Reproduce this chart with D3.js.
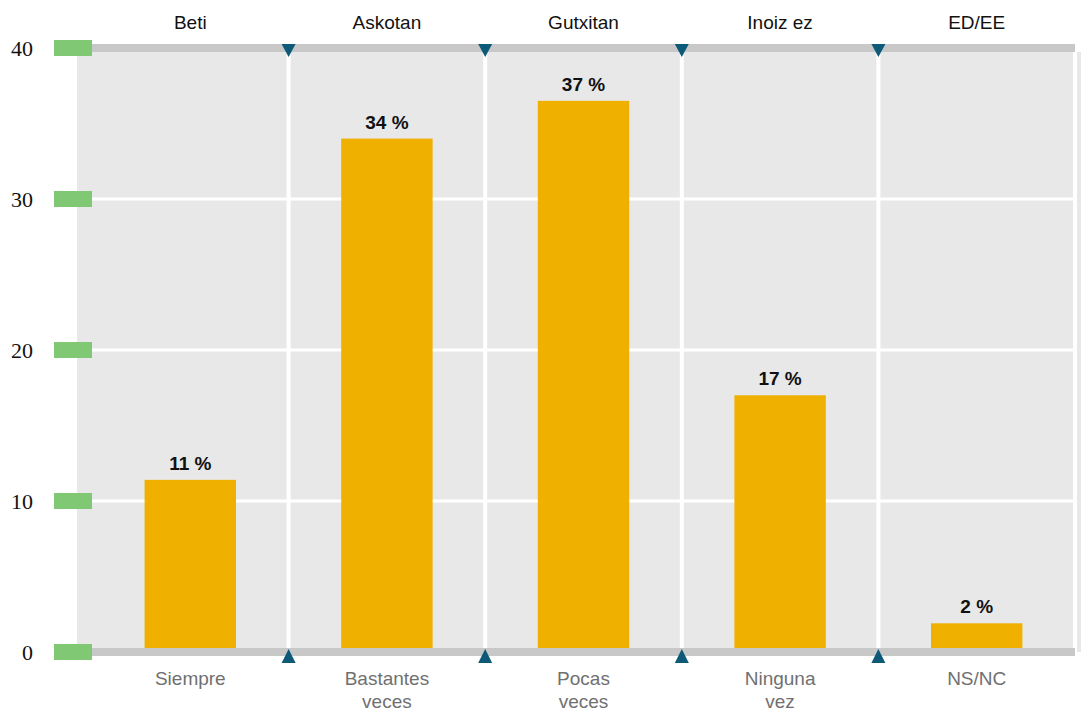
<!DOCTYPE html>
<html><head><meta charset="utf-8">
<script src="https://cdn.jsdelivr.net/npm/d3@7"></script>
<style>body{margin:0;background:#fff}svg{display:block}</style>
</head><body><svg id="c" width="1082" height="712"></svg>
<script>
const categories = ["Siempre", "Bastantes veces", "Pocas veces", "Ninguna vez", "NS/NC"];
const topLabels = ["Beti", "Askotan", "Gutxitan", "Inoiz ez", "ED/EE"];
const values = [11.4, 34.0, 36.5, 17.0, 1.9];
const valueLabels = ["11 %", "34 %", "37 %", "17 %", "2 %"];
const yTicks = [0, 10, 20, 30, 40];

const svg = d3.select("#c");
const x = d3.scaleBand().domain(categories).range([92, 1075]).paddingInner(0).paddingOuter(0);
const y = d3.scaleLinear().domain([0, 40]).range([652, 48]);

// background
svg.append("rect").attr("x", 77).attr("y", y(40) + 4).attr("width", 1081 - 77).attr("height", y(0) - y(40) - 4).attr("fill", "#e8e8e8");

// horizontal grid
svg.selectAll(".hg").data(yTicks.filter(d => d > 0 && d < 40)).enter().append("line")
  .attr("x1", 92).attr("x2", 1075).attr("y1", d => y(d)).attr("y2", d => y(d))
  .attr("stroke", "#fff").attr("stroke-width", 3);

// vertical grid at band boundaries
const bounds = categories.map(c => x(c) + x.bandwidth());
svg.selectAll(".vg").data(bounds).enter().append("line")
  .attr("x1", d => d).attr("x2", d => d).attr("y1", y(40)).attr("y2", y(0))
  .attr("stroke", "#fff").attr("stroke-width", 4);

// bars
const bw = x.bandwidth() * 0.465;
svg.selectAll(".bar").data(values).enter().append("rect")
  .attr("x", (d, i) => x(categories[i]) + x.bandwidth() / 2 - bw / 2)
  .attr("width", bw)
  .attr("y", d => y(d))
  .attr("height", d => y(0) + 4 - y(d))
  .attr("fill", "#f0b000");

// top and bottom gray bands
[40, 0].forEach(v => {
  svg.append("line").attr("x1", 92).attr("x2", 1075).attr("y1", y(v)).attr("y2", y(v))
    .attr("stroke", "#c8c8c8").attr("stroke-width", 8);
});

// green tick markers + y labels
svg.selectAll(".gt").data(yTicks).enter().append("rect")
  .attr("x", 54).attr("width", 38).attr("y", d => y(d) - 8).attr("height", 16).attr("fill", "#80c873");
svg.selectAll(".yl").data(yTicks).enter().append("text")
  .attr("x", 33).attr("y", d => y(d) + 7.5).attr("text-anchor", "end")
  .attr("font-family", "Liberation Serif, serif").attr("font-size", 22).attr("fill", "#111")
  .text(d => d);

// triangles (inner boundaries only)
const tri = 7;
const inner = bounds.slice(0, -1);
svg.selectAll(".tt").data(inner).enter().append("path")
  .attr("d", d => `M${d - tri},${y(40) - 4}L${d + tri},${y(40) - 4}L${d},${y(40) + 9}Z`)
  .attr("fill", "#0d5a78");
svg.selectAll(".tb").data(inner).enter().append("path")
  .attr("d", d => `M${d - tri},${y(0) + 11}L${d + tri},${y(0) + 11}L${d},${y(0) - 3}Z`)
  .attr("fill", "#0d5a78");

// value labels
svg.selectAll(".vl").data(values).enter().append("text")
  .attr("x", (d, i) => x(categories[i]) + x.bandwidth() / 2)
  .attr("y", d => y(d) - 10)
  .attr("text-anchor", "middle").attr("font-family", "Liberation Sans, Arial, sans-serif")
  .attr("font-weight", "bold").attr("font-size", 19).attr("fill", "#111")
  .text((d, i) => valueLabels[i]);

// top labels
svg.selectAll(".tl").data(topLabels).enter().append("text")
  .attr("x", (d, i) => x(categories[i]) + x.bandwidth() / 2)
  .attr("y", 29)
  .attr("text-anchor", "middle").attr("font-family", "Liberation Sans, Arial, sans-serif")
  .attr("font-size", 19).attr("fill", "#111")
  .text(d => d);

// bottom labels
categories.forEach((c, i) => {
  const words = c.split(" ");
  const t = svg.append("text").attr("text-anchor", "middle")
    .attr("font-family", "Liberation Sans, Arial, sans-serif").attr("font-size", 19).attr("fill", "#707070");
  words.forEach((w, j) => {
    t.append("tspan").attr("x", x(c) + x.bandwidth() / 2).attr("y", 685 + j * 23).text(w);
  });
});
</script></body></html>
